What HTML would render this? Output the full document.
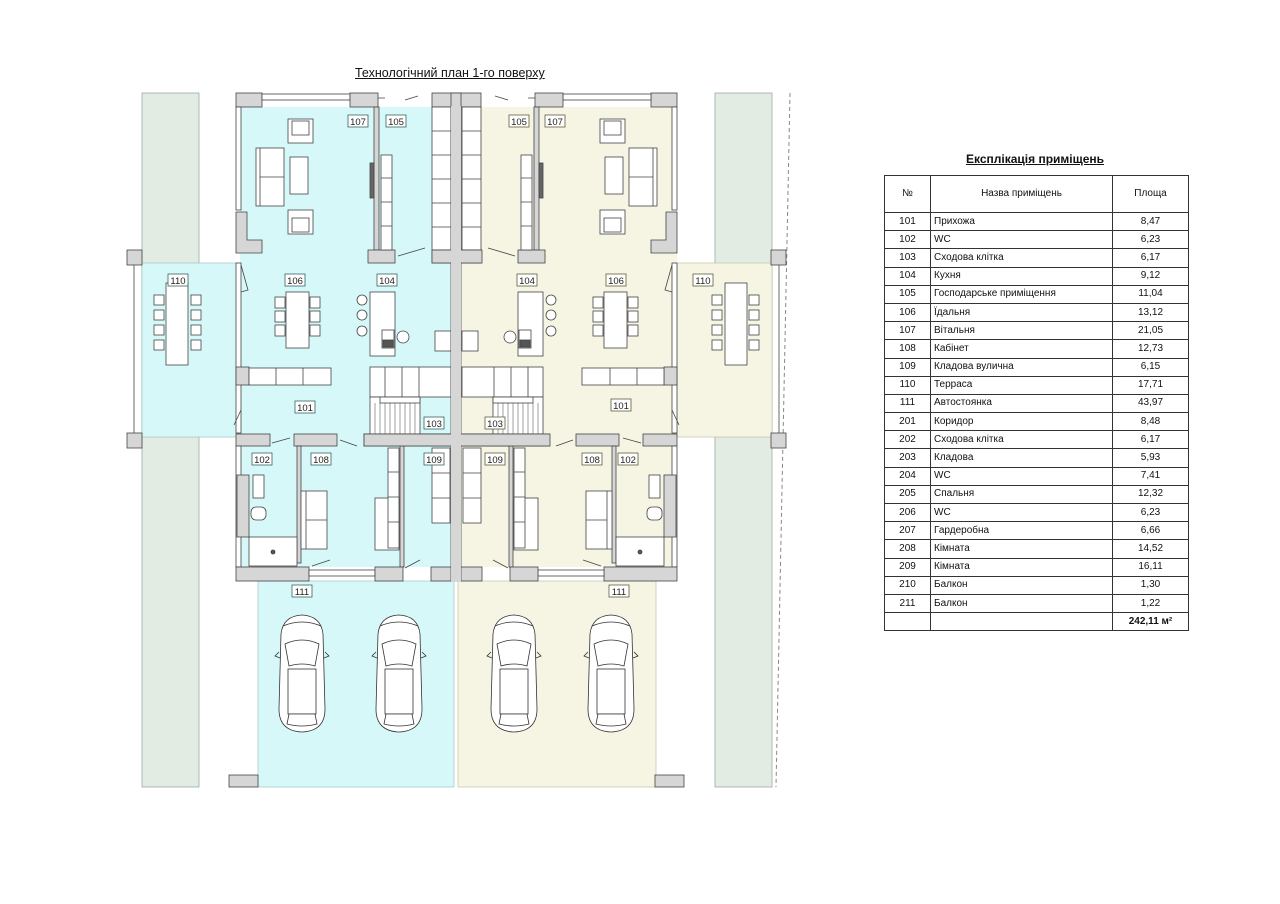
<!DOCTYPE html>
<html><head><meta charset="utf-8">
<style>
body{margin:0;background:#fff;width:1280px;height:904px;overflow:hidden;position:relative;font-family:"Liberation Sans",sans-serif;}
svg{position:absolute;left:0;top:0}
.t{position:absolute;font-size:12.5px;color:#111;text-decoration:underline;white-space:nowrap}
table{position:absolute;left:884px;top:175px;border-collapse:collapse;font-size:10px;color:#111}
td{border:1px solid #333;height:17.2px;padding:0 3px;line-height:10px}
td.c{text-align:center}
tr.h td{height:36px}
</style></head><body>
<div class="t" style="left:355px;top:66px">Технологічний план 1-го поверху</div>
<div class="t" style="left:966px;top:152px;font-weight:bold;font-size:12px">Експлікація приміщень</div>
<table>
<tr class="h"><td class="c" style="width:39px">№</td><td class="c" style="width:175px">Назва приміщень</td><td class="c" style="width:69px">Площа</td></tr>
<tr><td class="c">101</td><td>Прихожа</td><td class="c">8,47</td></tr>
<tr><td class="c">102</td><td>WC</td><td class="c">6,23</td></tr>
<tr><td class="c">103</td><td>Сходова клітка</td><td class="c">6,17</td></tr>
<tr><td class="c">104</td><td>Кухня</td><td class="c">9,12</td></tr>
<tr><td class="c">105</td><td>Господарське приміщення</td><td class="c">11,04</td></tr>
<tr><td class="c">106</td><td>Їдальня</td><td class="c">13,12</td></tr>
<tr><td class="c">107</td><td>Вітальня</td><td class="c">21,05</td></tr>
<tr><td class="c">108</td><td>Кабінет</td><td class="c">12,73</td></tr>
<tr><td class="c">109</td><td>Кладова вулична</td><td class="c">6,15</td></tr>
<tr><td class="c">110</td><td>Терраса</td><td class="c">17,71</td></tr>
<tr><td class="c">111</td><td>Автостоянка</td><td class="c">43,97</td></tr>
<tr><td class="c">201</td><td>Коридор</td><td class="c">8,48</td></tr>
<tr><td class="c">202</td><td>Сходова клітка</td><td class="c">6,17</td></tr>
<tr><td class="c">203</td><td>Кладова</td><td class="c">5,93</td></tr>
<tr><td class="c">204</td><td>WC</td><td class="c">7,41</td></tr>
<tr><td class="c">205</td><td>Спальня</td><td class="c">12,32</td></tr>
<tr><td class="c">206</td><td>WC</td><td class="c">6,23</td></tr>
<tr><td class="c">207</td><td>Гардеробна</td><td class="c">6,66</td></tr>
<tr><td class="c">208</td><td>Кімната</td><td class="c">14,52</td></tr>
<tr><td class="c">209</td><td>Кімната</td><td class="c">16,11</td></tr>
<tr><td class="c">210</td><td>Балкон</td><td class="c">1,30</td></tr>
<tr><td class="c">211</td><td>Балкон</td><td class="c">1,22</td></tr>
<tr><td></td><td></td><td class="c" style="font-weight:bold">242,11 м²</td></tr>
</table>

<svg width="1280" height="904" viewBox="0 0 1280 904" xmlns="http://www.w3.org/2000/svg">
<defs>
<g id="car" fill="#fff" stroke="#333" stroke-width="0.8">
<path d="M6,20 Q8,2 27,1 Q46,2 48,20 L50,95 Q50,117 27,118 Q4,117 4,95 Z"/>
<path d="M4,38 L0,42 L5,44 M50,38 L54,42 L49,44" fill="none"/>
<path d="M10,30 Q27,22 44,30 L40,52 Q27,48 14,52 Z"/>
<rect x="13" y="55" width="28" height="45"/>
<path d="M14,100 L40,100 L42,110 Q27,114 12,110 Z"/>
<path d="M8,12 Q27,4 46,12" fill="none"/>
</g>
<g id="half" stroke="#444" stroke-width="0.8">
<!-- terrace posts -->
<rect x="127" y="250" width="15" height="15" fill="#d6d6d6"/>
<rect x="127" y="433" width="15" height="15" fill="#d6d6d6"/>
<line x1="134" y1="265" x2="134" y2="433"/>
<!-- top walls -->
<rect x="236" y="93" width="26" height="14" fill="#d6d6d6"/>
<rect x="262" y="94" width="88" height="6" fill="#fff"/>
<rect x="350" y="93" width="28" height="14" fill="#d6d6d6"/>
<rect x="432" y="93" width="26" height="14" fill="#d6d6d6"/>
<path d="M405,100 L418,96 M378,98 L385,98" fill="none"/>
<!-- left ext of 107 -->
<rect x="236" y="107" width="5" height="103" fill="#fff"/>
<path d="M236,212 L247,212 L247,240 L262,240 L262,253 L236,253 Z" fill="#d6d6d6"/>
<rect x="374" y="107" width="5" height="143" fill="#d6d6d6"/>
<rect x="370" y="163" width="4" height="35" fill="#666"/>
<rect x="368" y="250" width="27" height="13" fill="#d6d6d6"/>
<rect x="432" y="250" width="26" height="13" fill="#d6d6d6"/>
<path d="M398,256 L425,248" fill="none"/>
<!-- ext walls 106/101 -->
<rect x="236" y="263" width="5" height="170" fill="#fff"/>
<path d="M241,265 L248,290 L241,292" fill="none"/>
<path d="M241,410 L234,425" fill="none"/>
<!-- 101 bottom wall -->
<rect x="236" y="434" width="34" height="12" fill="#d6d6d6"/>
<rect x="294" y="434" width="43" height="12" fill="#d6d6d6"/>
<rect x="364" y="434" width="94" height="12" fill="#d6d6d6"/>
<path d="M272,443 L290,438 M340,440 L357,446" fill="none"/>
<!-- sofa wall -->
<rect x="236" y="367" width="13" height="18" fill="#d6d6d6"/>
<rect x="249" y="368" width="82" height="17" fill="#fff"/>
<path d="M276,368 V385 M303,368 V385" fill="none"/>
<!-- kitchen -->
<rect x="370" y="367" width="81" height="30" fill="#fff"/>
<path d="M385,367 V397 M402,367 V397 M419,367 V397" fill="none"/>
<rect x="370" y="397" width="50" height="37" fill="#fff"/>
<rect x="380" y="397" width="40" height="6" fill="#fff"/>
<path d="M375,403 V434 M380,403 V434 M385,403 V434 M390,403 V434 M395,403 V434 M400,403 V434 M405,403 V434 M410,403 V434 M415,403 V434" stroke-width="0.5" fill="none"/>
<rect x="370" y="292" width="25" height="64" fill="#fff"/>
<rect x="382" y="330" width="12" height="18" fill="#fff"/>
<rect x="383" y="340" width="10" height="7" fill="#555"/>
<circle cx="362" cy="300" r="5" fill="#fff"/>
<circle cx="362" cy="315" r="5" fill="#fff"/>
<circle cx="362" cy="331" r="5" fill="#fff"/>
<circle cx="403" cy="337" r="6" fill="#fff"/>
<rect x="435" y="331" width="16" height="20" fill="#fff"/>
<!-- cabinets column -->
<rect x="432" y="107" width="19" height="143" fill="#fff"/>
<path d="M432,131 H451 M432,155 H451 M432,179 H451 M432,203 H451 M432,227 H451" fill="none"/>
<rect x="381" y="155" width="11" height="95" fill="#fff"/>
<path d="M381,178 H392 M381,202 H392 M381,226 H392" fill="none"/>
<!-- 107 furniture -->
<rect x="288" y="119" width="25" height="24" fill="#fff"/>
<rect x="292" y="121" width="17" height="14" fill="#fff"/>
<rect x="256" y="148" width="28" height="58" fill="#fff"/>
<path d="M260,148 V206 M260,177 H284" fill="none"/>
<rect x="290" y="157" width="18" height="37" fill="#fff"/>
<rect x="288" y="210" width="25" height="24" fill="#fff"/>
<rect x="292" y="218" width="17" height="14" fill="#fff"/>
<!-- 106 table -->
<rect x="286" y="292" width="23" height="56" fill="#fff"/>
<rect x="275" y="297" width="10" height="11" fill="#fff"/><rect x="275" y="311" width="10" height="11" fill="#fff"/><rect x="275" y="325" width="10" height="11" fill="#fff"/>
<rect x="310" y="297" width="10" height="11" fill="#fff"/><rect x="310" y="311" width="10" height="11" fill="#fff"/><rect x="310" y="325" width="10" height="11" fill="#fff"/>
<!-- terrace table -->
<rect x="166" y="283" width="22" height="82" fill="#fff"/>
<rect x="154" y="295" width="10" height="10" fill="#fff"/><rect x="154" y="310" width="10" height="10" fill="#fff"/><rect x="154" y="325" width="10" height="10" fill="#fff"/><rect x="154" y="340" width="10" height="10" fill="#fff"/>
<rect x="191" y="295" width="10" height="10" fill="#fff"/><rect x="191" y="310" width="10" height="10" fill="#fff"/><rect x="191" y="325" width="10" height="10" fill="#fff"/><rect x="191" y="340" width="10" height="10" fill="#fff"/>
<!-- lower walls -->
<rect x="236" y="446" width="5" height="121" fill="#fff"/>
<rect x="297" y="446" width="4" height="117" fill="#d6d6d6"/>
<rect x="400" y="446" width="4" height="121" fill="#d6d6d6"/>
<rect x="236" y="567" width="73" height="14" fill="#d6d6d6"/>
<rect x="309" y="570" width="66" height="6" fill="#fff"/>
<rect x="375" y="567" width="28" height="14" fill="#d6d6d6"/>
<rect x="431" y="567" width="27" height="14" fill="#d6d6d6"/>
<path d="M312,566 L330,560 M405,568 L420,560" fill="none"/>
<!-- 102 -->
<rect x="237" y="475" width="12" height="62" fill="#d6d6d6"/>
<rect x="253" y="475" width="11" height="23" fill="#fff"/>
<rect x="251" y="507" width="15" height="13" rx="5" fill="#fff"/>
<rect x="249" y="537" width="48" height="29" fill="#fff"/>
<circle cx="273" cy="552" r="2" fill="#555"/>
<!-- 108 -->
<rect x="301" y="491" width="26" height="58" fill="#fff"/>
<path d="M306,491 V549 M306,520 H327" fill="none"/>
<rect x="375" y="498" width="24" height="52" fill="#fff"/>
<rect x="388" y="448" width="11" height="100" fill="#fff"/>
<path d="M388,472 H399 M388,497 H399 M388,522 H399" fill="none"/>
<!-- 109 -->
<rect x="432" y="448" width="18" height="75" fill="#fff"/>
<path d="M432,473 H450 M432,498 H450" fill="none"/>
<!-- garage posts -->
<rect x="229" y="775" width="29" height="12" fill="#d6d6d6"/>
<use href="#car" x="275" y="614"/>
<use href="#car" x="372" y="614"/>
</g>
</defs>

<!-- green strips -->
<rect x="142" y="93" width="57" height="694" fill="#e3ece3" stroke="#9aa" stroke-width="0.8"/>
<rect x="715" y="93" width="57" height="694" fill="#e3ece3" stroke="#9aa" stroke-width="0.8"/>
<path d="M790,93 L776,787" stroke="#888" stroke-dasharray="4,3" fill="none"/>
<!-- fills -->
<rect x="240" y="107" width="213" height="460" fill="#d6f8f8"/>
<rect x="142" y="263" width="96" height="174" fill="#d6f8f8" stroke="#9bb" stroke-width="0.6"/>
<rect x="258" y="581" width="196" height="206" fill="#d6f8f8" stroke="#9bb" stroke-width="0.6"/>
<rect x="459" y="107" width="218" height="460" fill="#f6f4e3"/>
<rect x="677" y="263" width="95" height="174" fill="#f6f4e3" stroke="#bb9" stroke-width="0.6"/>
<rect x="458" y="581" width="198" height="206" fill="#f6f4e3" stroke="#bb9" stroke-width="0.6"/>

<use href="#half"/>
<use href="#half" transform="translate(913,0) scale(-1,1)"/>
<!-- center wall -->
<rect x="451" y="93" width="10" height="488" fill="#d6d6d6" stroke="#444" stroke-width="0.8"/>
<rect x="432" y="250" width="50" height="13" fill="#d6d6d6" stroke="#444" stroke-width="0.8"/>
<rect x="364" y="434" width="186" height="12" fill="#d6d6d6" stroke="#444" stroke-width="0.8"/>
<rect x="451" y="262" width="10" height="320" fill="#d6d6d6"/>
<rect x="451" y="106" width="10" height="145" fill="#d6d6d6"/>

<g font-family="Liberation Sans, sans-serif" font-size="9.5" text-anchor="middle" fill="#222" stroke-width="0.8">
<g stroke="#3d6060" fill="#fff">
<rect x="348" y="115" width="20" height="12"/><rect x="386" y="115" width="20" height="12"/>
<rect x="285" y="274" width="20" height="12"/><rect x="377" y="274" width="20" height="12"/>
<rect x="168" y="274" width="20" height="12"/><rect x="295" y="401" width="20" height="12"/>
<rect x="424" y="417" width="20" height="12"/><rect x="252" y="453" width="20" height="12"/>
<rect x="311" y="453" width="20" height="12"/><rect x="424" y="453" width="20" height="12"/>
<rect x="292" y="585" width="20" height="12"/>
</g>
<g stroke="#60603d" fill="#fff">
<rect x="509" y="115" width="20" height="12"/><rect x="545" y="115" width="20" height="12"/>
<rect x="517" y="274" width="20" height="12"/><rect x="606" y="274" width="20" height="12"/>
<rect x="693" y="274" width="20" height="12"/><rect x="611" y="399" width="20" height="12"/>
<rect x="485" y="417" width="20" height="12"/><rect x="485" y="453" width="20" height="12"/>
<rect x="582" y="453" width="20" height="12"/><rect x="618" y="453" width="20" height="12"/>
<rect x="609" y="585" width="20" height="12"/>
</g>
<text x="358" y="125">107</text><text x="396" y="125">105</text>
<text x="295" y="284">106</text><text x="387" y="284">104</text>
<text x="178" y="284">110</text><text x="305" y="411">101</text>
<text x="434" y="427">103</text><text x="262" y="463">102</text>
<text x="321" y="463">108</text><text x="434" y="463">109</text>
<text x="302" y="595">111</text>
<text x="519" y="125">105</text><text x="555" y="125">107</text>
<text x="527" y="284">104</text><text x="616" y="284">106</text>
<text x="703" y="284">110</text><text x="621" y="409">101</text>
<text x="495" y="427">103</text><text x="495" y="463">109</text>
<text x="592" y="463">108</text><text x="628" y="463">102</text>
<text x="619" y="595">111</text>
</g>
</svg>
</body></html>
